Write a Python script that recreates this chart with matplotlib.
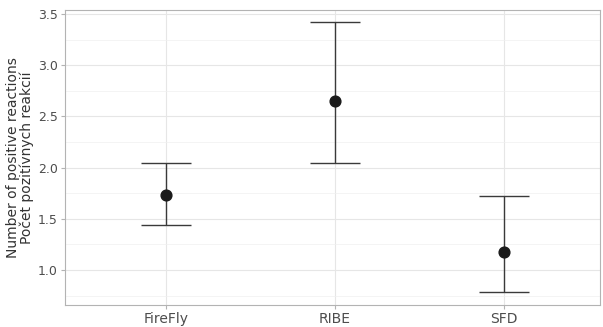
import numpy as np
import matplotlib.pyplot as plt
from matplotlib.ticker import MultipleLocator

# data
skupiny = ['FireFly', 'RIBE', 'SFD']
prumer = [1.73, 2.65, 1.18]
horni = [2.04, 3.42, 1.72]
dolni = [1.44, 2.04, 0.78]

x = np.arange(len(skupiny))
err = [np.array(prumer) - np.array(dolni), np.array(horni) - np.array(prumer)]

fig, ax = plt.subplots(figsize=(6.03, 3.27), dpi=100)
fig.subplots_adjust(left=0.107, right=0.995, top=0.97, bottom=0.068)

# mrizka jako theme_light
ax.set_axisbelow(True)
ax.yaxis.set_major_locator(MultipleLocator(0.5))
ax.yaxis.set_minor_locator(MultipleLocator(0.25))
ax.grid(which='major', color='#e6e6e6', linewidth=0.8)
ax.grid(which='minor', axis='y', color='#f0f0f0', linewidth=0.5)

ax.errorbar(x, prumer, yerr=err, fmt='none', ecolor='#3a3a3a',
            elinewidth=1.0, capsize=18, capthick=1.0)
ax.scatter(x, prumer, s=60, color='#1a1a1a', zorder=3)

ax.set_xticks(x)
ax.set_xticklabels(skupiny)
ax.set_xlim(-0.6, 2.57)
ax.set_ylim(0.66, 3.54)
ax.yaxis.set_major_formatter(plt.FuncFormatter(lambda v, p: f'{v:.1f}'))

for s in ax.spines.values():
    s.set_color('#b3b3b3')
    s.set_linewidth(0.8)
ax.tick_params(which='major', color='#b3b3b3', length=3, labelsize=9,
               labelcolor='#4d4d4d', pad=2)
ax.tick_params(which='minor', length=0)
ax.tick_params(axis='x', labelsize=10)

ax.set_ylabel('Number of positive reactions\nPočet pozitívnych reakcií',
              fontsize=10, color='#333333', linespacing=0.95, labelpad=3)

plt.savefig('out.png', dpi=100)
